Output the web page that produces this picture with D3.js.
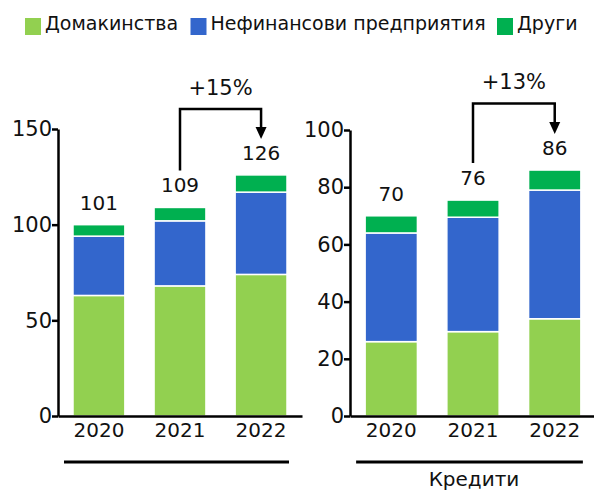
<!DOCTYPE html>
<html>
<head>
<meta charset="utf-8">
<script src="https://cdn.jsdelivr.net/npm/d3@7"></script>
<style>
  body { margin: 0; background: #fff; }
  svg { display: block; }
  text { font-family: "DejaVu Sans", Verdana, sans-serif; fill: #111; }
</style>
</head>
<body>
<script>
// ---- data ----
var years = ["2020", "2021", "2022"];
var seriesNames = ["Домакинства", "Нефинансови предприятия", "Други"];
var seriesColors = ["#92D050", "#3366CC", "#00B050"];

// left panel
var leftHouseholds = [63, 68, 74];
var leftFirms = [31, 34, 43];
var leftOther = [6, 7, 9];
var leftTotals = ["101", "109", "126"];
var leftTicks = [0, 50, 100, 150];
var leftChange = "+15%";

// right panel (Кредити)
var rightHouseholds = [26, 29.5, 34];
var rightFirms = [38, 40, 45];
var rightOther = [6, 6, 7];
var rightTotals = ["70", "76", "86"];
var rightTicks = [0, 20, 40, 60, 80, 100];
var rightChange = "+13%";
var rightTitle = "Кредити";

window.onload = () => {
    var W = 594, H = 490;
    var svg = d3.select("body").append("svg")
        .attr("width", W).attr("height", H);

    // legend
    var legendX = [25, 190.5, 497];
    var legend = svg.append("g");
    seriesNames.forEach(function (name, i) {
        legend.append("rect")
            .attr("x", legendX[i]).attr("y", 18)
            .attr("width", 16).attr("height", 17)
            .attr("fill", seriesColors[i]);
        legend.append("text")
            .attr("x", legendX[i] + 20).attr("y", 30)
            .style("font-size", "19px")
            .text(name);
    });

    function panel(opts) {
        var g = svg.append("g");
        var y = d3.scaleLinear().domain(opts.domain).range([416, opts.top]);
        var x = d3.scaleBand().domain(years)
            .range([opts.x0, opts.x1])
            .paddingInner(0.36).paddingOuter(0.185);

        var rows = years.map(function (yr, i) {
            return { year: yr, h: opts.h[i], f: opts.f[i], o: opts.o[i] };
        });
        var stack = d3.stack().keys(["h", "f", "o"])(rows);

        g.selectAll("g.layer")
            .data(stack)
            .enter().append("g")
            .attr("class", "layer")
            .attr("fill", function (d, i) { return seriesColors[i]; })
            .selectAll("rect")
            .data(function (d) { return d; })
            .enter().append("rect")
            .attr("x", function (d) { return x(d.data.year); })
            .attr("width", x.bandwidth())
            .attr("y", function (d) { return y(d[1]); })
            .attr("height", function (d) { return y(d[0]) - y(d[1]); })
            .attr("stroke", "#fff")
            .attr("stroke-width", 1.5);

        // totals above bars
        var tops = rows.map(function (r) { return r.h + r.f + r.o; });
        g.selectAll("text.total")
            .data(rows)
            .enter().append("text")
            .attr("class", "total")
            .attr("text-anchor", "middle")
            .attr("x", function (d) { return x(d.year) + x.bandwidth() / 2; })
            .attr("y", function (d, i) { return y(tops[i]) - 15; })
            .style("font-size", "20px")
            .text(function (d, i) { return opts.totals[i]; });

        // y axis
        var yAxis = g.append("g")
            .attr("transform", "translate(" + opts.x0 + ",0)")
            .call(d3.axisLeft(y).tickValues(opts.ticks).tickSize(6).tickSizeOuter(0).tickPadding(0));
        yAxis.selectAll("path, line").attr("stroke", "#000").attr("stroke-width", 2.5);
        yAxis.selectAll("text").style("font-size", "21px")
            .style("font-family", "'DejaVu Sans', sans-serif").attr("fill", "#111");

        // x axis
        var xAxis = g.append("g")
            .attr("transform", "translate(0,416)")
            .call(d3.axisBottom(x).tickSize(0).tickPadding(7));
        xAxis.select("path").attr("stroke", "#000").attr("stroke-width", 2.5);
        xAxis.selectAll("text").style("font-size", "20px")
            .style("font-family", "'DejaVu Sans', sans-serif").attr("fill", "#111");

        // group line under years
        var bx0 = x(years[0]), bx1 = x(years[2]) + x.bandwidth();
        g.append("line")
            .attr("x1", bx0 - 9).attr("x2", bx1 + 2)
            .attr("y1", 462).attr("y2", 462)
            .attr("stroke", "#000").attr("stroke-width", 3);
        if (opts.title) {
            g.append("text")
                .attr("x", (bx0 + bx1) / 2 + 1).attr("y", 486)
                .attr("text-anchor", "middle")
                .style("font-size", "20px")
                .text(opts.title);
        }

        // growth bracket 2021 -> 2022
        var cx1 = x(years[1]) + x.bandwidth() / 2;
        var cx2 = x(years[2]) + x.bandwidth() / 2;
        var startY = y(tops[1]) - 15 - 22;
        var tipY = y(tops[2]) - 15 - 21;
        var topY = y(opts.bracket);
        g.append("path")
            .attr("d", "M" + cx1 + "," + startY + "V" + topY + "H" + cx2 + "V" + (tipY - 11))
            .attr("fill", "none").attr("stroke", "#000").attr("stroke-width", 2.5);
        g.append("path")
            .attr("d", "M" + (cx2 - 5.5) + "," + (tipY - 12) + "L" + (cx2 + 5.5) + "," + (tipY - 12) + "L" + cx2 + "," + tipY + "Z")
            .attr("fill", "#000");
        g.append("text")
            .attr("x", (cx1 + cx2) / 2).attr("y", topY - 14)
            .attr("text-anchor", "middle")
            .style("font-size", "21px")
            .text(opts.change);
    }

    panel({ x0: 58, x1: 302, top: 129, domain: [0, 150], ticks: leftTicks,
        h: leftHouseholds, f: leftFirms, o: leftOther, totals: leftTotals,
        change: leftChange, bracket: 160.5, title: null });
    panel({ x0: 350, x1: 596, top: 130, domain: [0, 100], ticks: rightTicks,
        h: rightHouseholds, f: rightFirms, o: rightOther, totals: rightTotals,
        change: rightChange, bracket: 109.3, title: rightTitle });
};
</script>
</body>
</html>
